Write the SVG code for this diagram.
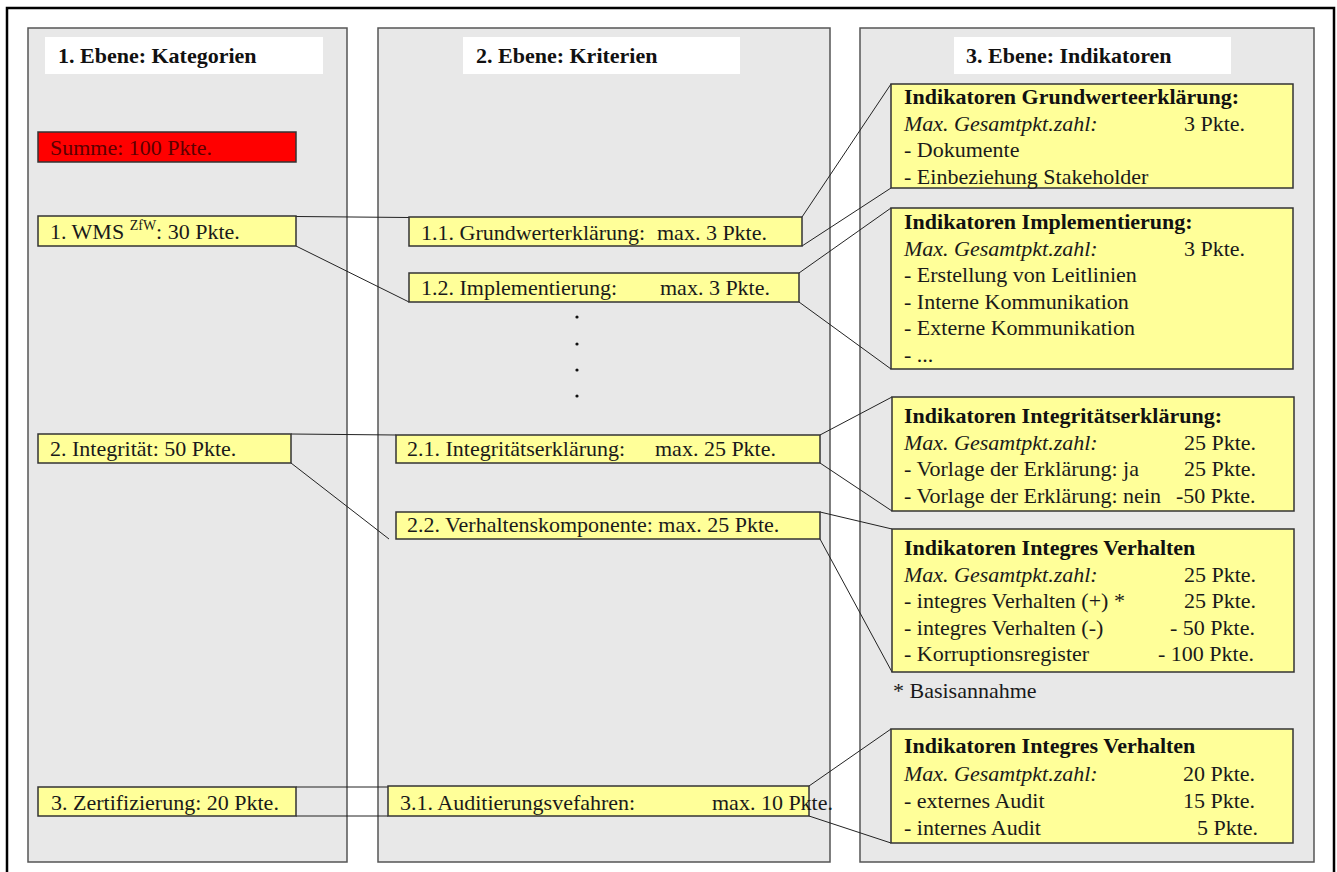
<svg xmlns="http://www.w3.org/2000/svg" width="1337" height="872" viewBox="0 0 1337 872">
<style>
.t{font-family:"Liberation Serif","Times New Roman",serif;font-size:22px;fill:#1a1a1a}
.b{font-weight:bold;fill:#111}
.i{font-style:italic}
.col{fill:#e8e8e8;stroke:#555;stroke-width:1.5}
.hdr{fill:#fff;stroke:none}
.box{fill:#ffff99;stroke:#333;stroke-width:1.5}
.red{fill:#ff0000;stroke:#333;stroke-width:1.5}
.c{stroke:#222;stroke-width:1;fill:none}
</style>
<rect width="1337" height="872" fill="#fff"/>
<path d="M7,876 V8 H1334 V876" fill="none" stroke="#000" stroke-width="2.5"/>

<g id="column1">
<rect class="col" x="28" y="28" width="319" height="834"/>
<rect class="hdr" x="45" y="37" width="278" height="37"/>
<text class="t b" x="58" y="63">1. Ebene: Kategorien</text>
</g>
<g id="column2">
<rect class="col" x="378" y="28" width="452" height="834"/>
<rect class="hdr" x="463" y="37" width="277" height="37"/>
<text class="t b" x="476" y="63">2. Ebene: Kriterien</text>
</g>
<g id="column3">
<rect class="col" x="860" y="28" width="454" height="834"/>
<rect class="hdr" x="954" y="37" width="277" height="37"/>
<text class="t b" x="966" y="63">3. Ebene: Indikatoren</text>
</g>

<g id="connectors">
<line class="c" x1="296" y1="216.5" x2="409" y2="217.5"/>
<line class="c" x1="296" y1="246" x2="409" y2="302"/>
<line class="c" x1="802" y1="217" x2="891" y2="84"/>
<line class="c" x1="802" y1="246" x2="891" y2="188"/>
<line class="c" x1="799" y1="273" x2="891" y2="208"/>
<line class="c" x1="799" y1="302" x2="891" y2="369"/>
<line class="c" x1="291" y1="434" x2="396" y2="435"/>
<line class="c" x1="291" y1="463" x2="389" y2="539"/>
<line class="c" x1="820" y1="435" x2="892" y2="397"/>
<line class="c" x1="820" y1="463" x2="892" y2="511"/>
<line class="c" x1="820" y1="512" x2="892" y2="529"/>
<line class="c" x1="820" y1="539" x2="892" y2="672"/>
<line class="c" x1="296" y1="787" x2="388" y2="787"/>
<line class="c" x1="296" y1="816" x2="388" y2="816"/>
<line class="c" x1="809" y1="786" x2="891" y2="729"/>
<line class="c" x1="809" y1="816" x2="891" y2="843"/>
</g>

<g id="summe">
<rect class="red" x="38" y="132" width="258" height="30"/>
<text class="t" x="50" y="155" style="fill:#5c0000">Summe: 100 Pkte.</text>
</g>
<g id="wms">
<rect class="box" x="38" y="216" width="258" height="30"/>
<text class="t" x="50" y="239">1. WMS <tspan font-size="14" dy="-9">ZfW</tspan><tspan dy="9">: 30 Pkte.</tspan></text>
</g>
<g id="integritaet">
<rect class="box" x="38" y="434" width="253" height="29"/>
<text class="t" x="50" y="456">2. Integrität: 50 Pkte.</text>
</g>
<g id="zertifizierung">
<rect class="box" x="38" y="787" width="258" height="29"/>
<text class="t" x="51" y="810">3. Zertifizierung: 20 Pkte.</text>
</g>

<g id="k11">
<rect class="box" x="409" y="217" width="393" height="29"/>
<text class="t" x="421" y="240">1.1. Grundwerterklärung:</text>
<text class="t" x="657" y="240">max. 3 Pkte.</text>
</g>
<g id="k12">
<rect class="box" x="409" y="273" width="390" height="29"/>
<text class="t" x="421" y="295">1.2. Implementierung:</text>
<text class="t" x="660" y="295">max. 3 Pkte.</text>
</g>
<g id="dots" fill="#111">
<circle cx="577" cy="317" r="1.6"/>
<circle cx="577" cy="344" r="1.6"/>
<circle cx="577" cy="370" r="1.6"/>
<circle cx="577" cy="396" r="1.6"/>
</g>
<g id="k21">
<rect class="box" x="396" y="435" width="424" height="28"/>
<text class="t" x="407" y="456">2.1. Integritätserklärung:</text>
<text class="t" x="655" y="456">max. 25 Pkte.</text>
</g>
<g id="k22">
<rect class="box" x="396" y="512" width="424" height="27"/>
<text class="t" x="407" y="532">2.2. Verhaltenskomponente: max. 25 Pkte.</text>
</g>
<g id="k31">
<rect class="box" x="388" y="786" width="421" height="30"/>
<text class="t" x="400" y="810">3.1. Auditierungsvefahren:</text>
<text class="t" x="712" y="810">max. 10 Pkte.</text>
</g>

<g id="indA">
<rect class="box" x="891" y="84" width="402" height="104"/>
<text class="t b" x="904" y="104">Indikatoren Grundwerteerklärung:</text>
<text class="t i" x="904" y="130.5">Max. Gesamtpkt.zahl:</text>
<text class="t" x="1184" y="130.5">3 Pkte.</text>
<text class="t" x="904" y="157">- Dokumente</text>
<text class="t" x="904" y="183.5">- Einbeziehung Stakeholder</text>
</g>
<g id="indB">
<rect class="box" x="891" y="208" width="402" height="161"/>
<text class="t b" x="904" y="229">Indikatoren Implementierung:</text>
<text class="t i" x="904" y="255.5">Max. Gesamtpkt.zahl:</text>
<text class="t" x="1184" y="255.5">3 Pkte.</text>
<text class="t" x="904" y="282">- Erstellung von Leitlinien</text>
<text class="t" x="904" y="308.5">- Interne Kommunikation</text>
<text class="t" x="904" y="335">- Externe Kommunikation</text>
<text class="t" x="904" y="361.5">- ...</text>
</g>
<g id="indC">
<rect class="box" x="892" y="397" width="402" height="114"/>
<text class="t b" x="904" y="423">Indikatoren Integritätserklärung:</text>
<text class="t i" x="904" y="449.5">Max. Gesamtpkt.zahl:</text>
<text class="t" x="1184" y="449.5">25 Pkte.</text>
<text class="t" x="904" y="476">- Vorlage der Erklärung: ja</text>
<text class="t" x="1184" y="476">25 Pkte.</text>
<text class="t" x="904" y="502.5">- Vorlage der Erklärung: nein</text>
<text class="t" x="1176" y="502.5">-50 Pkte.</text>
</g>
<g id="indD">
<rect class="box" x="892" y="529" width="402" height="143"/>
<text class="t b" x="904" y="555">Indikatoren Integres Verhalten</text>
<text class="t i" x="904" y="581.5">Max. Gesamtpkt.zahl:</text>
<text class="t" x="1184" y="581.5">25 Pkte.</text>
<text class="t" x="904" y="608">- integres Verhalten (+) *</text>
<text class="t" x="1184" y="608">25 Pkte.</text>
<text class="t" x="904" y="634.5">- integres Verhalten (-)</text>
<text class="t" x="1170" y="634.5">- 50 Pkte.</text>
<text class="t" x="904" y="661">- Korruptionsregister</text>
<text class="t" x="1158" y="661">- 100 Pkte.</text>
</g>
<g id="basis">
<text class="t" x="893" y="698">* Basisannahme</text>
</g>
<g id="indE">
<rect class="box" x="891" y="729" width="402" height="114"/>
<text class="t b" x="904" y="753">Indikatoren Integres Verhalten</text>
<text class="t i" x="904" y="781">Max. Gesamtpkt.zahl:</text>
<text class="t" x="1183" y="781">20 Pkte.</text>
<text class="t" x="904" y="808">- externes Audit</text>
<text class="t" x="1183" y="808">15 Pkte.</text>
<text class="t" x="904" y="835">- internes Audit</text>
<text class="t" x="1197" y="835">5 Pkte.</text>
</g>
</svg>
